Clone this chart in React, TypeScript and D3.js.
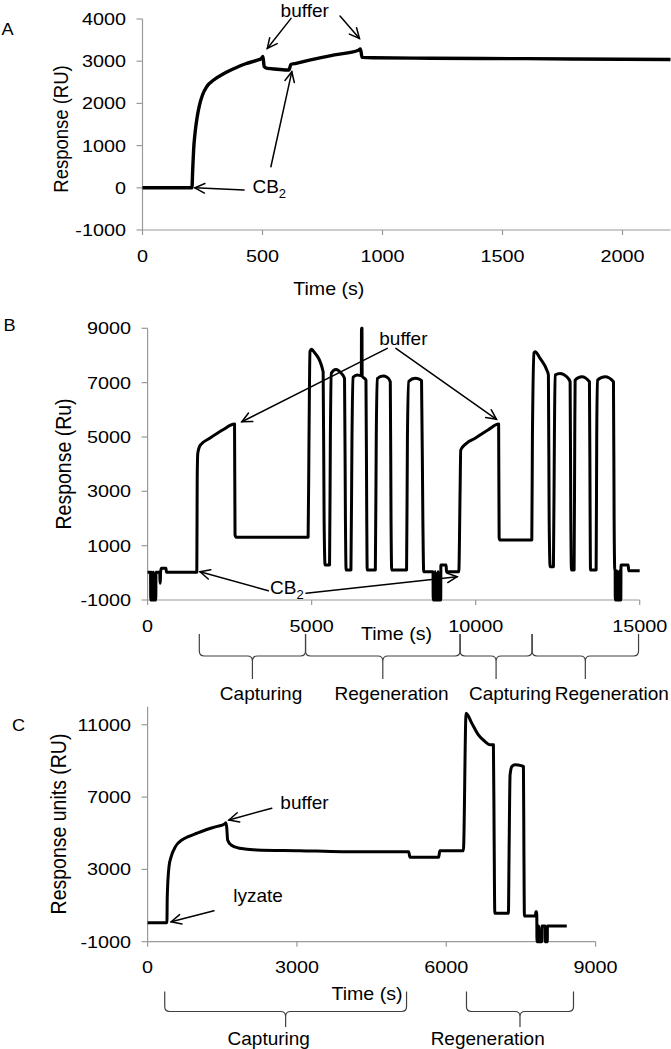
import React from 'react';
import * as d3 from 'd3';

const FONT = '"Liberation Sans", Arial, Helvetica, sans-serif';

// ---------- Panel A data ----------
const timeA = [0, 200, 206, 209, 213, 219, 227, 237, 250, 268, 298, 340, 387, 430, 476, 495, 502, 507, 520, 560, 610, 618, 640, 700, 800, 900, 908, 915, 960, 1200, 1600, 2000, 2200];
const respA = [0, 0, 0, 400, 900, 1300, 1650, 1950, 2200, 2400, 2560, 2710, 2840, 2940, 3020, 3060, 3110, 2870, 2830, 2810, 2790, 2920, 2950, 3030, 3150, 3260, 3290, 3090, 3080, 3070, 3060, 3045, 3040];
const xTicksA = [0, 500, 1000, 1500, 2000];
const yTicksA = [-1000, 0, 1000, 2000, 3000, 4000];

// ---------- Panel B data ----------
const timeB = [
  0, 90, 95, 125, 130, 140, 175, 180, 190, 250, 255, 370, 378, 388, 395, 420, 560, 575,
  1500, 1512, 1530, 1606, 1893, 2284, 2650, 2665, 2700, 4893,
  4920, 4950, 4997, 5060, 5351, 5380, 5410, 5546, 5571, 5600, 5741, 5900, 6003, 6030, 6050, 6198,
  6230, 6260, 6393, 6515, 6520, 6535, 6540, 6656, 6680, 6694, 6942,
  6970, 7000, 7177, 7300, 7398, 7420, 7440, 7894,
  7920, 7960, 8154, 8280, 8350, 8390, 8416, 8700,
  8705, 8760, 8765, 8790, 8850, 8855, 8880, 8935, 8940, 9100, 9110, 9486,
  9525, 9545, 9720, 9982, 10373, 10700, 10715, 10740, 11711,
  11730, 11780, 11812, 11964, 12168, 12217, 12240, 12270, 12370,
  12400, 12421, 12574, 12777, 12879, 12900, 12920, 13001,
  13020, 13032, 13235, 13468, 13489, 13500, 13672,
  13690, 13712, 13946, 14200, 14220, 14240, 14252,
  14255, 14300, 14305, 14330, 14380, 14385, 14400, 14425, 14430, 14650, 14665, 15000,
];
const respB = [
  20, 20, -1000, -1000, 20, -1000, -1000, 20, -1000, -1000, 20, 20, -380, -380, 20, 170, 170, 20,
  20, 3500, 4400, 4700, 4950, 5255, 5476, 1400, 1306, 1306,
  5000, 8150, 8225, 8150, 7401, 2000, 287, 287, 5000, 7350, 7488, 7350, 7157, 2000, 103, 103,
  5000, 7200, 7280, 7250, 9000, 9000, 7240, 7095, 2000, 103, 103,
  5000, 7150, 7242, 7200, 7033, 2000, 103, 103,
  5000, 7050, 7157, 7130, 7070, 2000, 40, 40,
  -1000, -1000, 40, -1000, -1000, 40, -1000, -1000, 290, 290, 40, 40,
  3000, 4520, 4765, 4950, 5255, 5476, 1300, 1207, 1207,
  5000, 8100, 8137, 7893, 7463, 7280, 2000, 225, 225,
  5000, 7280, 7340, 7217, 7033, 2000, 103, 103,
  5000, 7095, 7217, 7033, 2000, 103, 103,
  5000, 7095, 7217, 7033, 2000, 103, 103,
  -1000, -1000, 80, -1000, -1000, 80, -1000, -1000, 287, 287, 80, 80,
];
const xTicksB = [0, 5000, 10000, 15000];
const yTicksB = [-1000, 1000, 3000, 5000, 7000, 9000];

// ---------- Panel C data ----------
const timeC = [
  0, 388, 395, 430, 474, 559, 689, 818, 989, 1161, 1376, 1548, 1574, 1590, 1608, 1677, 1849, 2193, 3053, 3913,
  5245, 5270, 5848, 5870, 6344, 6398, 6512, 6645, 6780, 6880, 6947, 6961, 6975, 7248,
  7262, 7282, 7320, 7383, 7500, 7550, 7560, 7570, 7790, 7800, 7818,
  7822, 7850, 7855, 7870, 7919, 7922, 7985, 7988, 8030, 8032, 8421,
];
const respC = [
  50, 50, 1500, 3150, 3704, 4260, 4629, 4810, 5000, 5180, 5365, 5515, 5580, 5300, 4629, 4352, 4170, 4075, 4036, 3981,
  3981, 3670, 3670, 4036, 4036, 11644, 11091, 10443, 10072, 9889, 9889, 5000, 570, 570,
  4000, 8228, 8700, 8782, 8740, 8690, 4000, 420, 420, 660, 660,
  -1000, -1000, -130, -1000, -1000, -130, -130, -1000, -1000, -130, -130,
];
const xTicksC = [0, 3000, 6000, 9000];
const yTicksC = [-1000, 3000, 7000, 11000];

// ---------- Braces ----------
const bracesB = [[1576, 4814], [4814, 9525], [9525, 11720], [11720, 14965]];
const braceLabelsB = ['Capturing', 'Regeneration', 'Capturing', 'Regeneration'];
const braceLabelTimesB = [3458, 7437, 11050, 14150];
const bracesC = [[344, 5202], [6406, 8556]];
const braceLabelsC = ['Capturing', 'Regeneration'];
const braceLabelTimesC = [2433, 6832];

type Pt = [number, number];

function Txt({ x, y, size, sx = 1, anchor = 'start', rotate = 0, children }: any) {
  const tr = `translate(${x},${y}) scale(${sx},1)` + (rotate ? ` rotate(${rotate})` : '');
  return (
    <text transform={tr} fontSize={size} fontFamily={FONT} textAnchor={anchor} fill="#000">
      {children}
    </text>
  );
}

function Arrow({ from, to }: { from: Pt; to: Pt }) {
  const a = Math.atan2(to[1] - from[1], to[0] - from[0]);
  const L = 11;
  const s = 0.45;
  const p1: Pt = [to[0] - L * Math.cos(a - s), to[1] - L * Math.sin(a - s)];
  const p2: Pt = [to[0] - L * Math.cos(a + s), to[1] - L * Math.sin(a + s)];
  return (
    <g stroke="#000" strokeWidth={1.5} fill="none" strokeLinecap="round">
      <line x1={from[0]} y1={from[1]} x2={to[0]} y2={to[1]} />
      <polyline points={`${p1[0]},${p1[1]} ${to[0]},${to[1]} ${p2[0]},${p2[1]}`} />
    </g>
  );
}

function bracePath(x0: number, x1: number, top: number, h: number, tip: number) {
  const xm = (x0 + x1) / 2;
  const r = 5;
  return [
    `M${x0},${top} L${x0},${h - r} Q${x0},${h} ${x0 + r},${h} L${xm - r},${h} Q${xm},${h} ${xm},${h + r} L${xm},${tip}`,
    `M${xm},${h + r} Q${xm},${h} ${xm + r},${h} L${x1 - r},${h} Q${x1},${h} ${x1},${h - r} L${x1},${top}`,
  ].join(' ');
}

function Panel({ times, values, xDomain, xRange, yDomain, yRange, xTicks, yTicks, strokeW }: any) {
  const x = d3.scaleLinear().domain(xDomain).range(xRange);
  const y = d3.scaleLinear().domain(yDomain).range(yRange);
  const pts: Pt[] = times.map((t: number, i: number) => [t, values[i]]);
  const line = d3.line<Pt>().x((d) => x(d[0])).y((d) => y(d[1])).curve(d3.curveMonotoneX);
  const x0 = xRange[0];
  const yb = yRange[0];
  return (
    <g>
      <g stroke="#9a9a9a" strokeWidth={1.2}>
        <line x1={x0} y1={yRange[1]} x2={x0} y2={yb} />
        <line x1={x0} y1={yb} x2={xRange[1]} y2={yb} />
        {yTicks.map((v: number) => (
          <line key={'yt' + v} x1={x0 - 6} x2={x0} y1={y(v)} y2={y(v)} />
        ))}
        {xTicks.map((v: number) => (
          <line key={'xt' + v} x1={x(v)} x2={x(v)} y1={yb} y2={yb + 5} />
        ))}
      </g>
      {yTicks.map((v: number) => (
        <Txt key={'yl' + v} x={x0 - 16.5} y={y(v) + 6} size={16.5} sx={1.2} anchor="end">
          {v}
        </Txt>
      ))}
      {xTicks.map((v: number) => (
        <Txt key={'xl' + v} x={x(v)} y={yb + 31.7} size={16.5} sx={1.2} anchor="middle">
          {v}
        </Txt>
      ))}
      <path d={line(pts) || ''} fill="none" stroke="#000" strokeWidth={strokeW} strokeLinejoin="round" />
    </g>
  );
}

export default function App() {
  const xA = d3.scaleLinear().domain([0, 2200]).range([142.5, 670.5]);
  const yA = d3.scaleLinear().domain([-1000, 4000]).range([230, 19]);
  const xB = d3.scaleLinear().domain([0, 15000]).range([147.6, 639.7]);
  const yB = d3.scaleLinear().domain([-1000, 9000]).range([600, 328.3]);
  const xC = d3.scaleLinear().domain([0, 9000]).range([147.6, 595.6]);
  const yC = d3.scaleLinear().domain([-1000, 12000]).range([941.7, 706.7]);
  const P = (sx: any, sy: any, t: number, v: number): Pt => [sx(t), sy(v)];

  return (
    <svg width={671} height={1049} style={{ position: 'absolute', left: 0, top: 0, background: '#fff' }}>
      <rect width={671} height={1049} fill="#fff" />

      {/* ===== Panel A ===== */}
      <Txt x={1.5} y={35} size={16.5} sx={1.1}>A</Txt>
      <Txt x={68} y={129} size={18.5} sx={1.1} anchor="middle" rotate={-90}>Response (RU)</Txt>
      <Panel times={timeA} values={respA} xDomain={[0, 2200]} xRange={[142.5, 670.5]} yDomain={[-1000, 4000]} yRange={[230, 19]}
        xTicks={xTicksA} yTicks={yTicksA} strokeW={3.4} />
      <Txt x={328.8} y={295} size={18.5} sx={1.06} anchor="middle">Time (s)</Txt>
      <Txt x={xA(676)} y={17} size={19} anchor="middle">buffer</Txt>
      <Arrow from={P(xA, yA, 619, 4014)} to={P(xA, yA, 520, 3303)} />
      <Arrow from={P(xA, yA, 823, 4069)} to={P(xA, yA, 904, 3540)} />
      <Arrow from={P(xA, yA, 423, -55)} to={P(xA, yA, 218, 0)} />
      <Arrow from={P(xA, yA, 535, 498)} to={P(xA, yA, 622, 2749)} />
      <text x={xA(458)} y={yA(-133)} fontSize={19} fontFamily={FONT}>
        CB<tspan fontSize={13} dy={5}>2</tspan>
      </text>

      {/* ===== Panel B ===== */}
      <Txt x={3.5} y={331} size={16.5} sx={1.1}>B</Txt>
      <Txt x={71} y={464} size={19.5} sx={1.1} anchor="middle" rotate={-90}>Response (Ru)</Txt>
      <Panel times={timeB} values={respB} xDomain={[0, 15000]} xRange={[147.6, 639.7]} yDomain={[-1000, 9000]} yRange={[600, 328.3]}
        xTicks={xTicksB} yTicks={yTicksB} strokeW={3} />
      <Txt x={396.5} y={639.5} size={18.5} sx={1.06} anchor="middle">Time (s)</Txt>
      <Txt x={xB(7797)} y={yB(8383)} size={19} anchor="middle">buffer</Txt>
      <Arrow from={P(xB, yB, 7305, 8262)} to={P(xB, yB, 2872, 5560)} />
      <Arrow from={P(xB, yB, 7568, 8262)} to={P(xB, yB, 10635, 5649)} />
      <Arrow from={P(xB, yB, 3680, -659)} to={P(xB, yB, 1598, 40)} />
      <Arrow from={P(xB, yB, 4830, -754)} to={P(xB, yB, 9434, -144)} />
      <text x={xB(3732)} y={yB(-780)} fontSize={19} fontFamily={FONT}>
        CB<tspan fontSize={13} dy={5}>2</tspan>
      </text>
      <g fill="none" stroke="#404040" strokeWidth={1.2}>
        {bracesB.map((b, i) => (
          <path key={'bb' + i} d={bracePath(xB(b[0]), xB(b[1]), 634, 656, 679)} />
        ))}
      </g>
      {braceLabelsB.map((s, i) => (
        <Txt key={'bl' + i} x={xB(braceLabelTimesB[i])} y={700} size={19} anchor="middle">{s}</Txt>
      ))}

      {/* ===== Panel C ===== */}
      <Txt x={12} y={730.5} size={16.5} sx={1.1}>C</Txt>
      <Txt x={66} y={824} size={19.5} sx={1.1} anchor="middle" rotate={-90}>Response units (RU)</Txt>
      <Panel times={timeC} values={respC} xDomain={[0, 9000]} xRange={[147.6, 595.6]} yDomain={[-1000, 12000]} yRange={[941.7, 706.7]}
        xTicks={xTicksC} yTicks={yTicksC} strokeW={3} />
      <Txt x={367} y={999.5} size={18.5} sx={1.06} anchor="middle">Time (s)</Txt>
      <Txt x={xC(2667)} y={yC(6345)} size={19}>buffer</Txt>
      <Txt x={xC(1720)} y={yC(1196)} size={19}>lyzate</Txt>
      <Arrow from={P(xC, yC, 2494, 6384)} to={P(xC, yC, 1634, 5736)} />
      <Arrow from={P(xC, yC, 1334, 714)} to={P(xC, yC, 474, 105)} />
      <g fill="none" stroke="#404040" strokeWidth={1.2}>
        {bracesC.map((b, i) => (
          <path key={'bc' + i} d={bracePath(xC(b[0]), xC(b[1]), 991.5, 1011.5, 1027)} />
        ))}
      </g>
      {braceLabelsC.map((s, i) => (
        <Txt key={'cl' + i} x={xC(braceLabelTimesC[i])} y={1045} size={19} anchor="middle">{s}</Txt>
      ))}
    </svg>
  );
}
